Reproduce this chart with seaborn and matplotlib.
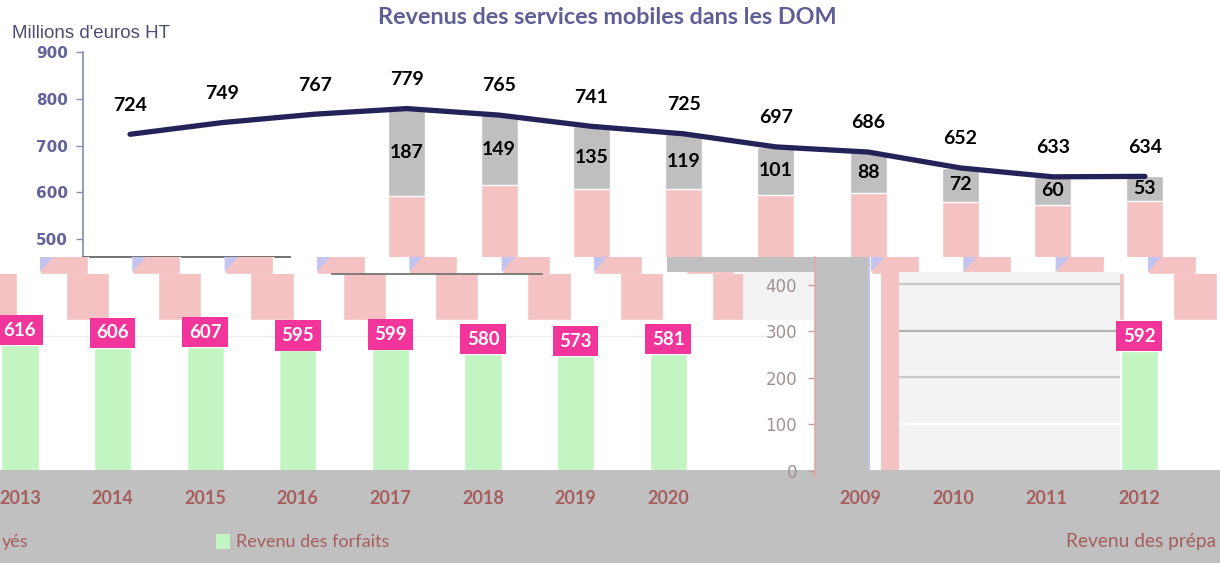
import numpy as np
import pandas as pd
import matplotlib
matplotlib.use("Agg")
import matplotlib.pyplot as plt
import seaborn as sns
from matplotlib.patches import Patch, Polygon

# ---------------- data ----------------
years = ["2009", "2010", "2011", "2012", "2013", "2014", "2015",
         "2016", "2017", "2018", "2019", "2020"]
totals = [724, 749, 767, 779, 765, 741, 725, 697, 686, 652, 633, 634]
forfaits = [np.nan, np.nan, np.nan, 592, 616, 606, 607, 595, 599, 580, 573, 581]
prepayes = [np.nan, np.nan, np.nan, 187, 149, 135, 119, 101, 88, 72, 60, 53]
main_yticks = [500, 600, 700, 800, 900]
inset_yticks = [0, 100, 200, 300, 400]
bottom_years_left = ["2013", "2014", "2015", "2016", "2017", "2018", "2019", "2020"]
bottom_years_right = ["2009", "2010", "2011", "2012"]
title = "Revenus des services mobiles dans les DOM"
unit_label = "Millions d'euros HT"
leg_forfaits = "Revenu des forfaits"
leg_prepayes_left = "yés"
leg_prepayes_right = "Revenu des prépa"

# ghost (glitched) copies of the series
ghost_b = totals + totals[:1]
ghost_f = totals + totals[:2]

# ---------------- style ----------------
sns.set_theme(style="white", rc={"axes.facecolor": "none"})
plt.rcParams["font.family"] = ["Lato", "DejaVu Sans"]

PINK = "#f4c2c2"
GREY = "#bfbfbf"
GREEN = "#c2f5c2"
MAGENTA = "#f2359a"
NAVY = "#23235a"
LAV = "#c3c3f0"
BAND = "#c0c0c0"
RED_TXT = "#a65e5e"

W, H = 1220, 563
fig = plt.figure(figsize=(W / 100, H / 100), dpi=100)


def pax(x0, y0, x1, y1, fc="none"):
    ax = fig.add_axes([x0 / W, 1 - y1 / H, (x1 - x0) / W, (y1 - y0) / H])
    ax.set_facecolor(fc)
    return ax


def blank(ax):
    for s in ax.spines.values():
        s.set_visible(False)
    ax.set_xticks([])
    ax.set_yticks([])
    ax.set_xlabel("")
    ax.set_ylabel("")


def forfait_layer(ax, labels, xlim, grid=True):
    fmap = dict(zip(years, forfaits))
    vals = [fmap.get(y, np.nan) for y in labels]
    sns.barplot(x=labels, y=vals, order=labels, color=GREEN, width=0.4,
                saturation=1, errorbar=None, ax=ax)
    for i, v in enumerate(vals):
        if not np.isnan(v):
            ax.annotate(str(int(v)), (i, v), xytext=(0, 4.6),
                        textcoords="offset points", ha="center", va="bottom",
                        fontsize=13.5, fontweight="bold", color="white",
                        family="Lato",
                        bbox=dict(boxstyle="square,pad=0.35", fc=MAGENTA, ec="none"))
    ax.set_xlim(*xlim)
    ax.set_ylim(128, 901)
    if grid:
        ax.set_yticks([650])
        ax.yaxis.grid(True, color="#ececec", lw=1)
    else:
        ax.set_yticks([])
        ax.yaxis.grid(False)
    ax.set_axisbelow(True)
    ax.tick_params(axis="y", length=0, labelleft=False)
    ax.tick_params(axis="x", length=0, pad=14.3, labelsize=13, labelcolor=RED_TXT)
    for lab in ax.get_xticklabels():
        lab.set_fontweight("bold")
    ax.set_xlabel("")
    ax.set_ylabel("")
    for s in ax.spines.values():
        s.set_visible(False)


# ---------------- main chart ----------------
A = pax(83, 52, 1192, 257)
stack = list(np.array(forfaits) + np.array(prepayes))
sns.barplot(x=years, y=stack, order=years, color=GREY, width=0.4,
            saturation=1, errorbar=None, ax=A)
sns.barplot(x=years, y=forfaits, order=years, color=PINK, width=0.4,
            saturation=1, errorbar=None, ax=A)
pos = np.arange(len(years))
sns.lineplot(x=pos, y=totals, color=NAVY, lw=3.8, ax=A,
             solid_capstyle="round", solid_joinstyle="round")
for i, t in enumerate(totals):
    A.annotate(str(t), (i, t), xytext=(0, 21), textcoords="offset points",
               ha="center", va="center", fontsize=14, fontweight="bold",
               color="black", family="Lato")
for i, (f, p) in enumerate(zip(forfaits, prepayes)):
    if not np.isnan(p):
        A.text(i, f + p / 2, str(int(p)), ha="center", va="center",
               fontsize=14, fontweight="bold", color="black", family="Lato")
A.set_xlim(-0.51, 11.51)
A.set_ylim(461.5, 900)
A.set_yticks(main_yticks)
A.set_xticks([])
A.set_xlabel("")
A.set_ylabel("")
A.spines["top"].set_visible(False)
A.spines["right"].set_visible(False)
A.spines["left"].set_color("#8c8cb4")
A.spines["bottom"].set_color("#606060")
A.spines["bottom"].set_bounds(-0.51, 1.73)
A.tick_params(axis="y", left=True, length=5, width=1, color="#8c8cb4",
              pad=6, labelsize=11, labelcolor="#63639a")
for lab in A.get_yticklabels():
    lab.set_fontfamily("DejaVu Sans")
    lab.set_fontweight("bold")

# ---------------- bottom grey band ----------------
D = pax(0, 470, 1220, 563, BAND)
blank(D)
D.set_xlim(0, 1)
D.set_ylim(0, 1)
D.legend(handles=[Patch(fc=GREEN, ec="none")], labels=[leg_forfaits],
         loc="center left", bbox_to_anchor=(216 / W, 21 / 93), frameon=False,
         handlelength=0.75, handleheight=0.9, handletextpad=0.35,
         borderpad=0, borderaxespad=0, fontsize=13, labelcolor=RED_TXT)
D.text(2 / W, 21 / 93, leg_prepayes_left, ha="left", va="center", fontsize=13,
       color=RED_TXT)
D.text(1066 / W, 21 / 93, leg_prepayes_right, ha="left", va="center",
       fontsize=13.8, color=RED_TXT)

# ---------------- glitch layers ----------------
G2a = pax(693, 272, 815, 470, "white")
blank(G2a)

B = pax(0, 257, 1220, 274)
sns.barplot(x=list(range(len(ghost_b))), y=ghost_b, color=PINK, width=0.52,
            saturation=1, errorbar=None, ax=B)
B.set_ylim(0, 1)
B.set_xlim(-0.693, 12.52)
for p in list(B.patches):
    x0, w = p.get_x(), p.get_width()
    B.add_patch(Polygon([(x0, 1), (x0 + 0.28 * w, 1), (x0, 0.12)],
                        closed=True, fc=LAV, ec="none"))
blank(B)

F = pax(0, 274, 1220, 320)
sns.barplot(x=list(range(len(ghost_f))), y=ghost_f, color=PINK, width=0.47,
            saturation=1, errorbar=None, ax=F)
F.set_ylim(0, 1)
F.set_xlim(0.054, 13.27)
blank(F)
F.spines["top"].set_visible(True)
F.spines["top"].set_color("#707070")
F.spines["top"].set_bounds(3.65, 5.93)

G2b = pax(743, 272, 815, 320, "#f2f2f2")
blank(G2b)

# left group of the forfaits layer (2013-2020)
C1 = pax(0, 272, 770, 470)
forfait_layer(C1, bottom_years_left, (-20 / 92.6, (770 - 20) / 92.6))

G1 = pax(667, 257, 862, 272, BAND)
blank(G1)

E2 = pax(815, 257, 868, 477, BAND)
E2.set_ylim(-12.9, 460.2)
E2.set_yticks(inset_yticks)
E2.set_xticks([])
for s in ["top", "right", "bottom"]:
    E2.spines[s].set_visible(False)
E2.spines["left"].set_color("#e4a8a8")
E2.tick_params(axis="y", left=True, length=5, width=1, color="#c99a9a",
               pad=8, labelsize=12, labelcolor="#a39090")
for lab in E2.get_yticklabels():
    lab.set_fontfamily("DejaVu Sans")

Lav = pax(868, 257, 870, 470, LAV)
blank(Lav)
Wst = pax(870, 274, 881, 470, "white")
blank(Wst)
Hs = pax(881, 272, 899, 470, PINK)
blank(Hs)

E = pax(899, 272, 1120, 470, "#f3f3f3")
E.set_ylim(0, 426)
E.set_yticks([100, 200, 300, 400])
E.set_xticks([])
E.yaxis.grid(True, lw=1.6)
for gl, c in zip(E.get_ygridlines(), ["#ffffff", "#c8c8c8", "#b2b2b2", "#c8c8c8"]):
    gl.set_color(c)
E.tick_params(length=0, labelleft=False, labelbottom=False)
for s in E.spines.values():
    s.set_visible(False)

# right group of the forfaits layer (2009-2012)
C2 = pax(770, 272, 1220, 470)
forfait_layer(C2, bottom_years_right, (-(860 - 770) / 93.1, (1220 - 860) / 93.1),
              grid=False)

# ---------------- titles ----------------
fig.text(607 / W, 1 - 17 / H, title, ha="center", va="center", fontsize=16.8,
         fontweight="bold", color="#5f5f96", family="Lato")
fig.text(12 / W, 1 - 33 / H, unit_label, ha="left", va="center", fontsize=13.5,
         color="#4d4d73", family="Liberation Sans")

fig.savefig("out.png", dpi=100, facecolor="white")
